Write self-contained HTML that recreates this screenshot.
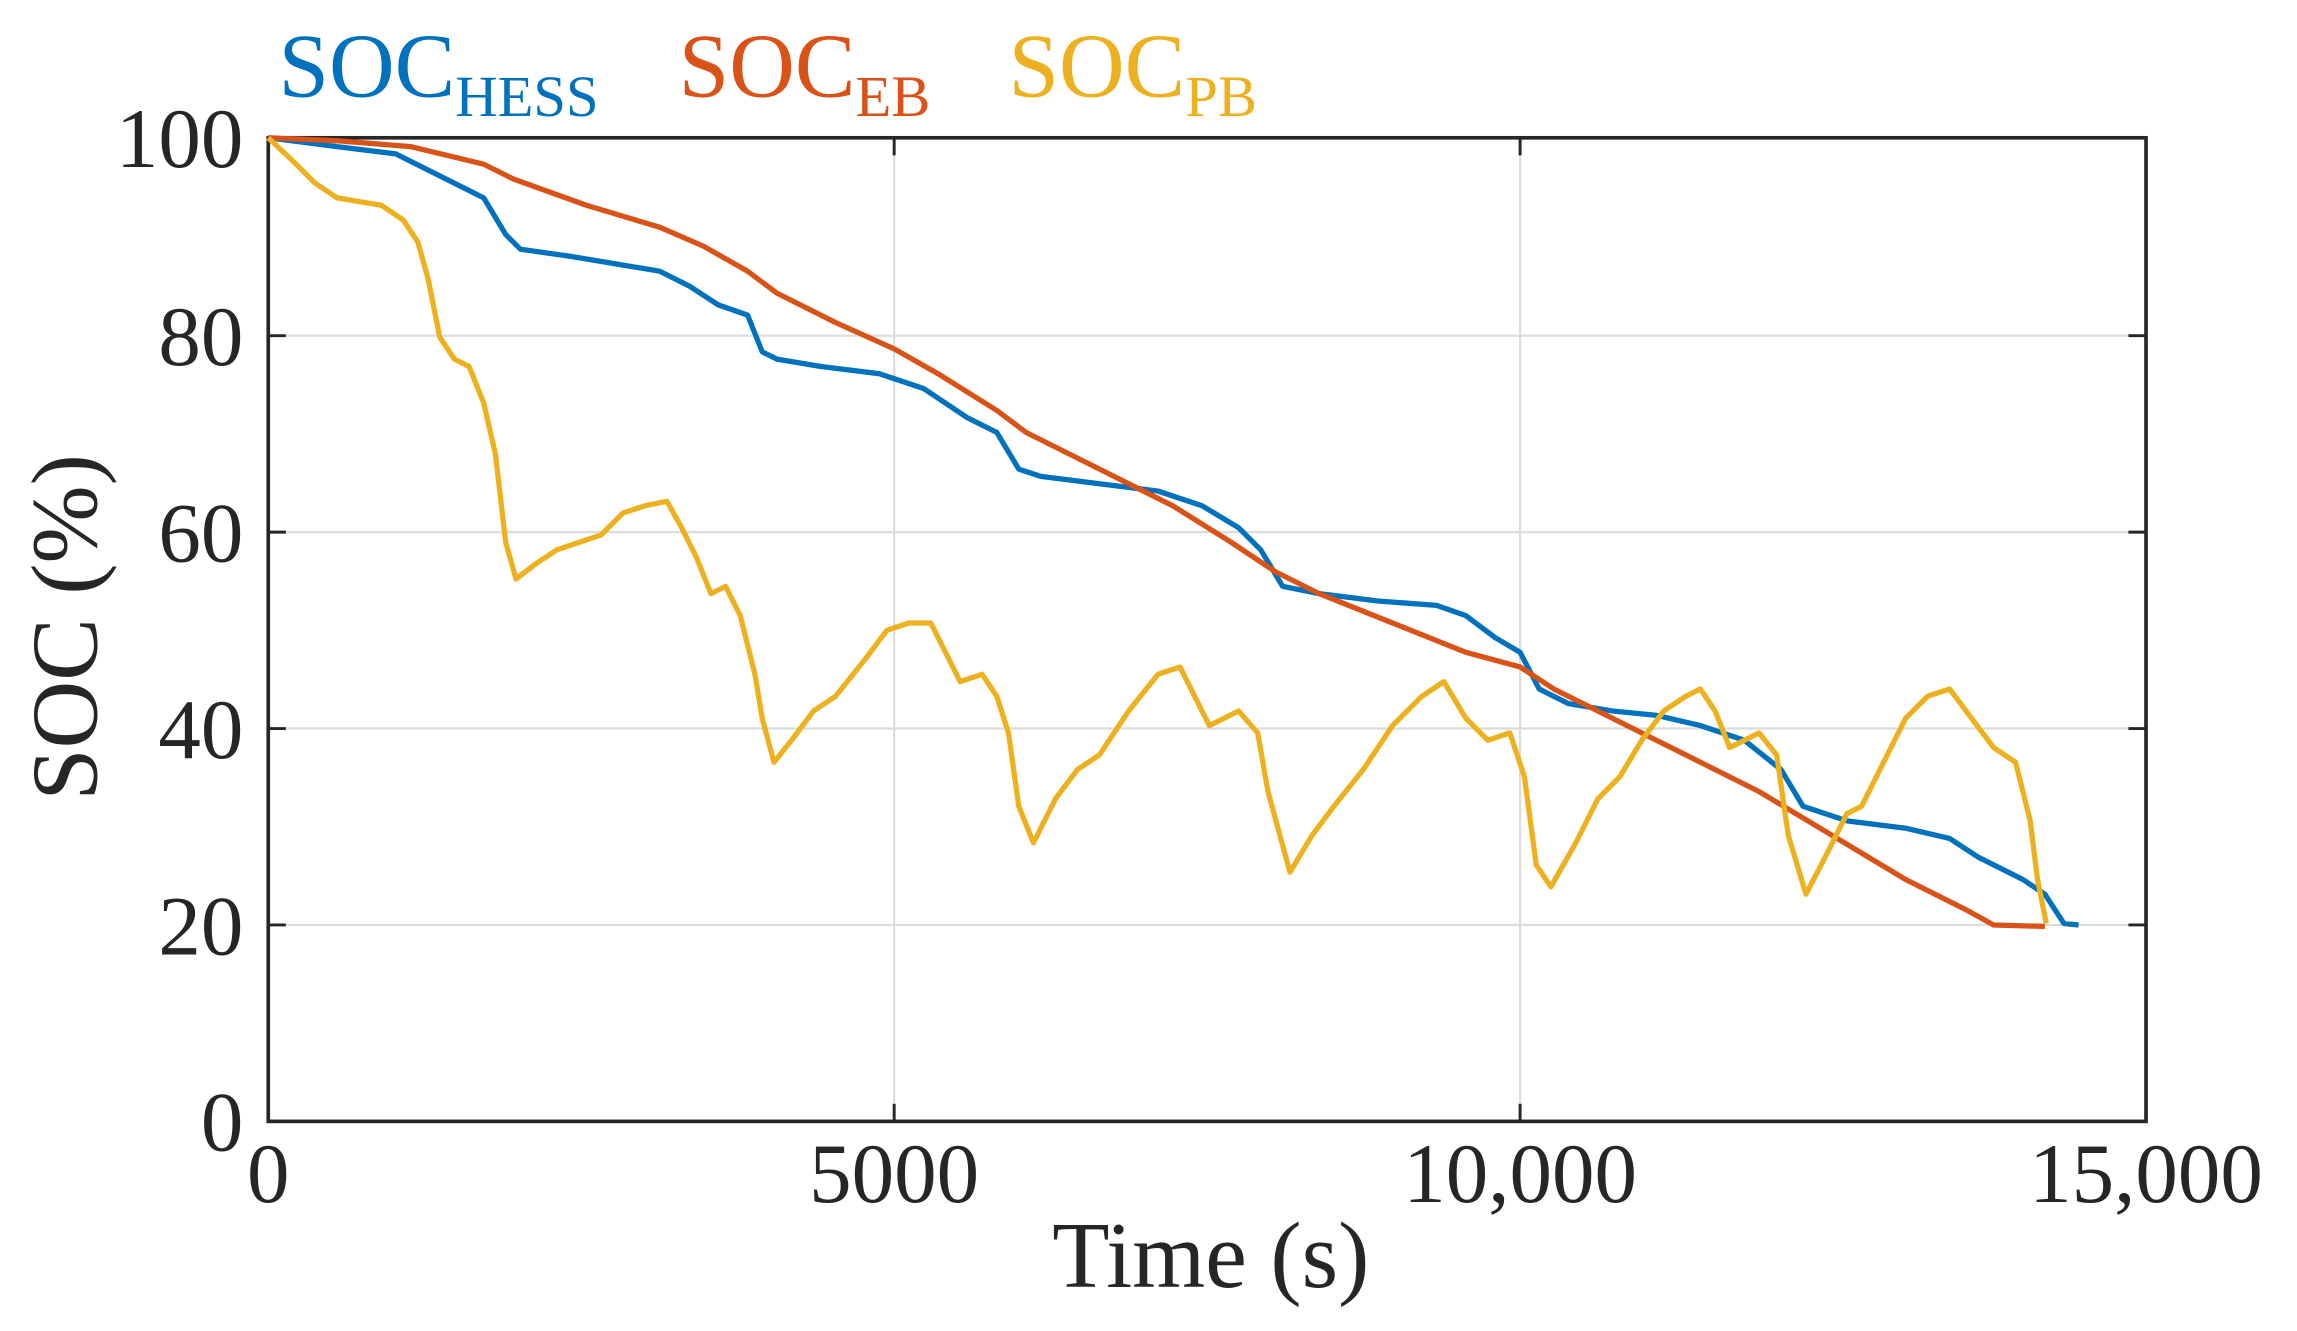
<!DOCTYPE html>
<html><head><meta charset="utf-8"><style>
html,body{margin:0;padding:0;background:#fff;}
svg{display:block;}
text{font-family:"Liberation Serif","DejaVu Serif",serif;}
</style></head><body>
<svg width="2297" height="1331" viewBox="0 0 1567 908" preserveAspectRatio="none" xmlns="http://www.w3.org/2000/svg">
<rect width="1567" height="908" fill="#fff"/>
<g stroke="#dcdcdc" stroke-width="1.5">
<line x1="610" y1="94" x2="610" y2="765"/><line x1="1037" y1="94" x2="1037" y2="765"/>
<line x1="183" y1="229" x2="1464" y2="229"/><line x1="183" y1="363" x2="1464" y2="363"/>
<line x1="183" y1="497" x2="1464" y2="497"/><line x1="183" y1="631" x2="1464" y2="631"/>
</g>
<g stroke="#262626" stroke-width="2">
<line x1="610" y1="94" x2="610" y2="106"/><line x1="1037" y1="94" x2="1037" y2="106"/>
<line x1="610" y1="765" x2="610" y2="753"/><line x1="1037" y1="765" x2="1037" y2="753"/>
<line x1="183" y1="229" x2="195" y2="229"/><line x1="183" y1="363" x2="195" y2="363"/><line x1="183" y1="497" x2="195" y2="497"/><line x1="183" y1="631" x2="195" y2="631"/>
<line x1="1464" y1="229" x2="1452" y2="229"/><line x1="1464" y1="363" x2="1452" y2="363"/><line x1="1464" y1="497" x2="1452" y2="497"/><line x1="1464" y1="631" x2="1452" y2="631"/>
</g>
<rect x="183" y="94" width="1281" height="671" fill="none" stroke="#262626" stroke-width="2.5"/>
<g fill="none" stroke-width="3.6" stroke-linejoin="round">
<polyline stroke="#0072BD" points="183,94 230,100 270,105 300,120 330,135 345,160 355,170 390,175 420,180 450,185 470,195 490,208 510,215 520,240 530,245 560,250 600,255 630,265 660,285 680,295 695,320 710,325 750,330 790,335 820,345 845,360 860,375 875,400 900,405 940,410 980,413 1000,420 1020,435 1037,445 1050,470 1070,480 1100,485 1130,488 1160,495 1190,505 1215,525 1230,550 1260,560 1300,565 1330,572 1350,585 1380,600 1395,610 1408,630 1418,631"/>
<polyline stroke="#D95319" points="183,94 230,96 280,100 330,112 350,122 400,140 450,155 480,168 510,185 530,200 570,220 610,238 640,255 680,280 700,295 750,320 800,345 840,370 870,390 900,405 950,425 1000,445 1037,455 1060,470 1100,490 1150,515 1200,540 1250,570 1300,600 1340,620 1360,631 1395,632"/>
<polyline stroke="#EDB120" points="183,94 200,110 215,125 230,135 260,140 275,150 285,165 292,190 300,230 310,245 320,250 330,275 338,310 345,370 352,395 365,385 380,375 395,370 410,365 425,350 440,345 455,342 465,360 475,380 485,405 495,400 505,420 515,460 520,490 528,520 540,505 555,485 570,475 590,450 605,430 620,425 635,425 645,445 655,465 670,460 680,475 688,500 695,550 705,575 720,545 735,525 750,515 770,485 790,460 805,455 815,475 825,495 845,485 858,500 865,540 880,595 895,570 910,550 930,525 950,495 970,475 985,465 1000,490 1015,505 1030,500 1040,530 1048,590 1058,605 1075,575 1090,545 1105,530 1120,505 1135,485 1150,475 1160,470 1170,485 1180,510 1190,505 1200,500 1212,515 1220,570 1232,610 1245,585 1260,555 1270,550 1285,520 1300,490 1315,475 1330,470 1345,490 1360,510 1375,520 1385,560 1390,600 1396,630"/>
</g>
<g fill="#262626" font-size="58" text-anchor="end">
<text x="166" y="114">100</text><text x="166" y="249">80</text><text x="166" y="383">60</text><text x="166" y="517">40</text><text x="166" y="651">20</text><text x="166" y="785">0</text>
</g>
<g fill="#262626" font-size="58" text-anchor="middle">
<text x="183" y="820">0</text><text x="610" y="820">5000</text><text x="1037" y="820">10,000</text><text x="1464" y="820">15,000</text>
<text x="826" y="878" font-size="64">Time (s)</text>
<text transform="translate(66,428) rotate(-90)" font-size="64">SOC (%)</text>
</g>
<g font-size="62">
<text x="190" y="66" fill="#0072BD">SOC<tspan font-size="40" dy="13">HESS</tspan></text>
<text x="463" y="66" fill="#D95319">SOC<tspan font-size="40" dy="13">EB</tspan></text>
<text x="688" y="66" fill="#EDB120">SOC<tspan font-size="40" dy="13">PB</tspan></text>
</g>
</svg>
</body></html>
